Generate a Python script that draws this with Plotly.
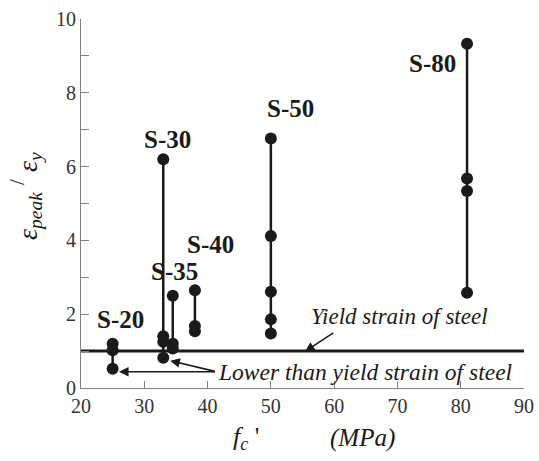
import plotly.graph_objects as go

# ---- data ----
series_names = ["S-20", "S-30", "S-35", "S-40", "S-50", "S-80"]
series_fc = [25.0, 33.0, 34.5, 38.0, 50.0, 81.0]
series_ratio = [
    [1.20, 1.02, 0.52],
    [6.20, 1.40, 1.25, 0.82],
    [2.50, 1.20, 1.07],
    [2.65, 1.68, 1.54],
    [6.76, 4.12, 2.61, 1.86, 1.48],
    [9.33, 5.68, 5.34, 2.58],
]
label_pos = [
    (26.3, 1.87),
    (33.7, 6.74),
    (34.7, 3.15),
    (40.4, 3.90),
    (53.1, 7.57),
    (75.5, 8.79),
]
yield_ratio = 1.0
x_range = [20, 90]
y_range = [0, 10]
x_ticks = [20, 30, 40, 50, 60, 70, 80, 90]
y_ticks = [0, 2, 4, 6, 8, 10]
y_minor = [1, 3, 5, 7, 9]

FONT = "Liberation Serif"
INK = "#1a1a1a"
AX = "#808080"

fig = go.Figure()

# yield line
fig.add_trace(go.Scatter(x=[x_range[0], x_range[1] + 0.3], y=[yield_ratio, yield_ratio],
                         mode="lines", line=dict(color=INK, width=3), showlegend=False,
                         hoverinfo="skip", cliponaxis=False))

for name, fc, vals in zip(series_names, series_fc, series_ratio):
    fig.add_trace(go.Scatter(x=[fc] * len(vals), y=vals, mode="lines+markers",
                             name=name, showlegend=False,
                             line=dict(color=INK, width=2.5),
                             marker=dict(color=INK, size=12)))

annotations = []
for name, (lx, ly) in zip(series_names, label_pos):
    annotations.append(dict(x=lx, y=ly, xref="x", yref="y", text="<b>" + name + "</b>",
                            showarrow=False, font=dict(family=FONT, size=25, color=INK)))

# Yield strain annotation
annotations.append(dict(x=70.4, y=1.93, xref="x", yref="y",
                        text="<i>Yield strain of steel</i>", showarrow=False,
                        font=dict(family=FONT, size=23, color=INK)))
annotations.append(dict(x=55.4, y=0.99, xref="x", yref="y", ax=60.1, ay=1.52,
                        axref="x", ayref="y", text="", showarrow=True,
                        arrowhead=2, arrowsize=1.2, arrowwidth=1.6, arrowcolor=INK))
# Lower than yield annotation
annotations.append(dict(x=64.95, y=0.44, xref="x", yref="y",
                        text="<i>Lower than yield strain of steel</i>", showarrow=False,
                        font=dict(family=FONT, size=23.5, color=INK)))
annotations.append(dict(x=26.0, y=0.44, xref="x", yref="y", ax=41.4, ay=0.44,
                        axref="x", ayref="y", text="", showarrow=True,
                        arrowhead=2, arrowsize=1.2, arrowwidth=1.6, arrowcolor=INK))
annotations.append(dict(x=34.1, y=0.74, xref="x", yref="y", ax=41.4, ay=0.44,
                        axref="x", ayref="y", text="", showarrow=True,
                        arrowhead=2, arrowsize=1.2, arrowwidth=1.6, arrowcolor=INK))

# axis titles
annotations.append(dict(x=(246 - 81) / 443, y=-0.135, xref="paper", yref="paper",
                        text="<i>f<sub>c</sub></i> '", showarrow=False, xanchor="center",
                        yanchor="middle", font=dict(family=FONT, size=26, color=INK)))
annotations.append(dict(x=(362 - 81) / 443, y=-0.135, xref="paper", yref="paper",
                        text="<i>(MPa)</i>", showarrow=False, xanchor="center",
                        yanchor="middle", font=dict(family=FONT, size=25, color=INK)))
annotations.append(dict(x=(26 - 81) / 443, y=(388 - 196) / 369, xref="paper", yref="paper",
                        text="<i>ε<sub>peak</sub></i> <span style='font-size:30px'><sup>/</sup></span> <i>ε<sub>y</sub></i>",
                        textangle=-90, showarrow=False, xanchor="center", yanchor="middle",
                        font=dict(family=FONT, size=28, color=INK)))

fig.update_layout(
    width=539, height=461,
    margin=dict(l=81, r=15, t=19, b=73, autoexpand=False),
    paper_bgcolor="white", plot_bgcolor="white",
    annotations=annotations,
    xaxis=dict(range=x_range, tickvals=x_ticks, automargin=False,
               ticks="inside", ticklen=7, tickcolor=AX, showline=True, linecolor=AX,
               linewidth=1, showgrid=False, zeroline=False,
               tickfont=dict(family=FONT, size=20, color="#333")),
    yaxis=dict(range=y_range, tickvals=y_ticks, automargin=False,
               ticks="inside", ticklen=8, tickcolor=AX, showline=True, linecolor=AX,
               linewidth=1, showgrid=False, zeroline=False,
               minor=dict(tickvals=y_minor, ticks="inside", ticklen=8, tickcolor=AX),
               tickfont=dict(family=FONT, size=20, color="#333")),
)

fig.write_html("out.html")
